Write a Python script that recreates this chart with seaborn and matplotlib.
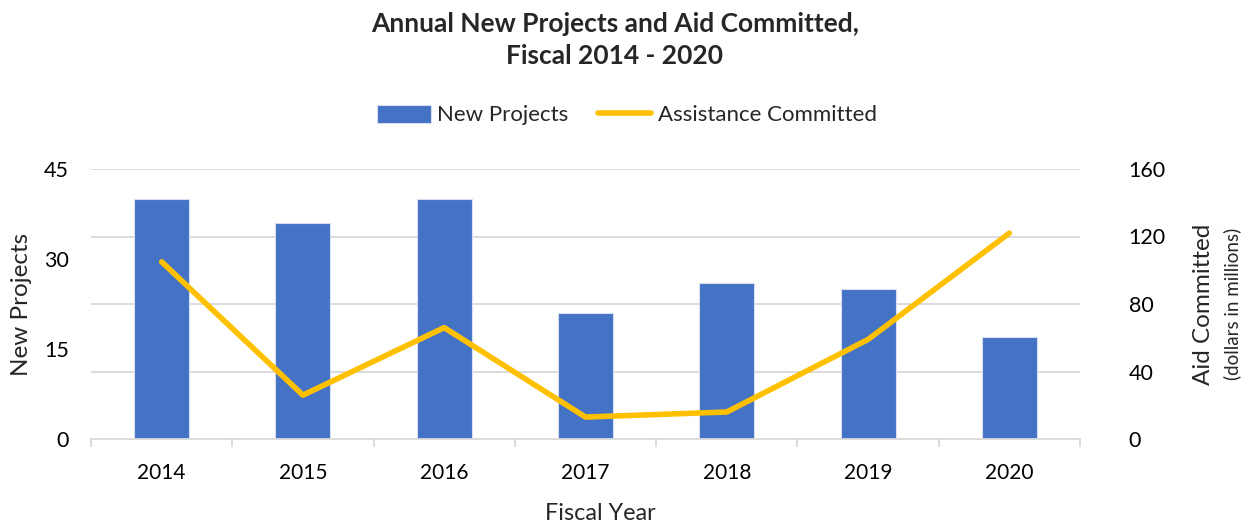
import numpy as np
import pandas as pd
import seaborn as sns
import matplotlib.pyplot as plt
from matplotlib.ticker import FixedLocator

sns.set_theme(style="white")
plt.rcParams['font.family'] = ['Lato', 'DejaVu Sans']

years = ["2014", "2015", "2016", "2017", "2018", "2019", "2020"]
new_projects = [40, 36, 40, 21, 26, 25, 17]
aid_committed = [105, 26, 66, 13, 16, 59, 122]

left_ticks = [0, 15, 30, 45]
right_ticks = [0, 40, 80, 120, 160]

df = pd.DataFrame({"Year": years, "New Projects": new_projects, "Aid": aid_committed})

bar_color = "#4472C4"
line_color = "#FFC000"
grid_color = "#D9D9D9"

fig = plt.figure(figsize=(12.49, 5.27), dpi=100)
ax = fig.add_axes([91 / 1249, 88 / 527, 989 / 1249, 270 / 527])
ax2 = ax.twinx()

# gridlines follow the right axis scale, drawn behind the bars
for v in np.linspace(0, 45, len(right_ticks))[1:]:
    ax.axhline(v, color=grid_color, lw=1.3, zorder=0)

sns.barplot(data=df, x="Year", y="New Projects", color=bar_color, width=0.39,
            saturation=1, edgecolor="#D6DEF0", linewidth=0.8, ax=ax, zorder=2,
            label="New Projects")
sns.lineplot(x=np.arange(len(years)), y=df["Aid"], color=line_color, lw=4,
             ax=ax2, label="Assistance Committed", solid_capstyle="round")

ax.set_xlim(-0.5, len(years) - 0.5)
ax.set_ylim(0, 45)
ax.set_yticks(left_ticks)
ax2.set_ylim(0, 160)
ax2.set_yticks(right_ticks)

ax.set_xlabel("")
ax.set_ylabel("")
ax2.set_ylabel("")

for s in ["top", "left", "right"]:
    ax.spines[s].set_visible(False)
    ax2.spines[s].set_visible(False)
ax.spines["bottom"].set_color(grid_color)
ax.spines["bottom"].set_linewidth(1.3)
ax2.spines["bottom"].set_visible(False)

ax.xaxis.set_minor_locator(FixedLocator(np.arange(-0.5, len(years), 1.0)))
ax.tick_params(axis="x", which="major", length=0, pad=17, labelsize=15, colors="black")
ax.tick_params(axis="x", which="minor", length=6, width=1.3, color=grid_color, bottom=True)
ax.tick_params(axis="y", length=0, pad=16, labelsize=15.5, colors="black")
ax2.tick_params(axis="y", length=0, pad=35, labelsize=15.5, colors="black")

if ax2.get_legend() is not None:
    ax2.get_legend().remove()
if ax.get_legend() is not None:
    ax.get_legend().remove()

h1, l1 = ax.get_legend_handles_labels()
h2, l2 = ax2.get_legend_handles_labels()
fig.legend(h1 + h2, l1 + l2, loc="center", bbox_to_anchor=(627 / 1249, 1 - 115 / 527),
           ncol=2, frameon=False, fontsize=16, handlelength=2.4, handleheight=0.9,
           handletextpad=0.3, columnspacing=1.3)

fig.text(615 / 1249, 1 - 40 / 527, "Annual New Projects and Aid Committed,\nFiscal 2014 - 2020",
         ha="center", va="center", fontsize=19, fontweight="bold", linespacing=1.35)
fig.text(22 / 1249, 1 - 304 / 527, "New Projects", rotation=90, ha="center", va="center",
         fontsize=17.5)
fig.text(1203 / 1249, 1 - 304 / 527, "Aid Committed", rotation=90, ha="center", va="center",
         fontsize=17.5)
fig.text(1232 / 1249, 1 - 304 / 527, "(dollars in millions)", rotation=90, ha="center",
         va="center", fontsize=13.5)
fig.text(600 / 1249, 1 - 514 / 527, "Fiscal Year", ha="center", va="center", fontsize=16.8)

fig.savefig("out.png", dpi=100)
